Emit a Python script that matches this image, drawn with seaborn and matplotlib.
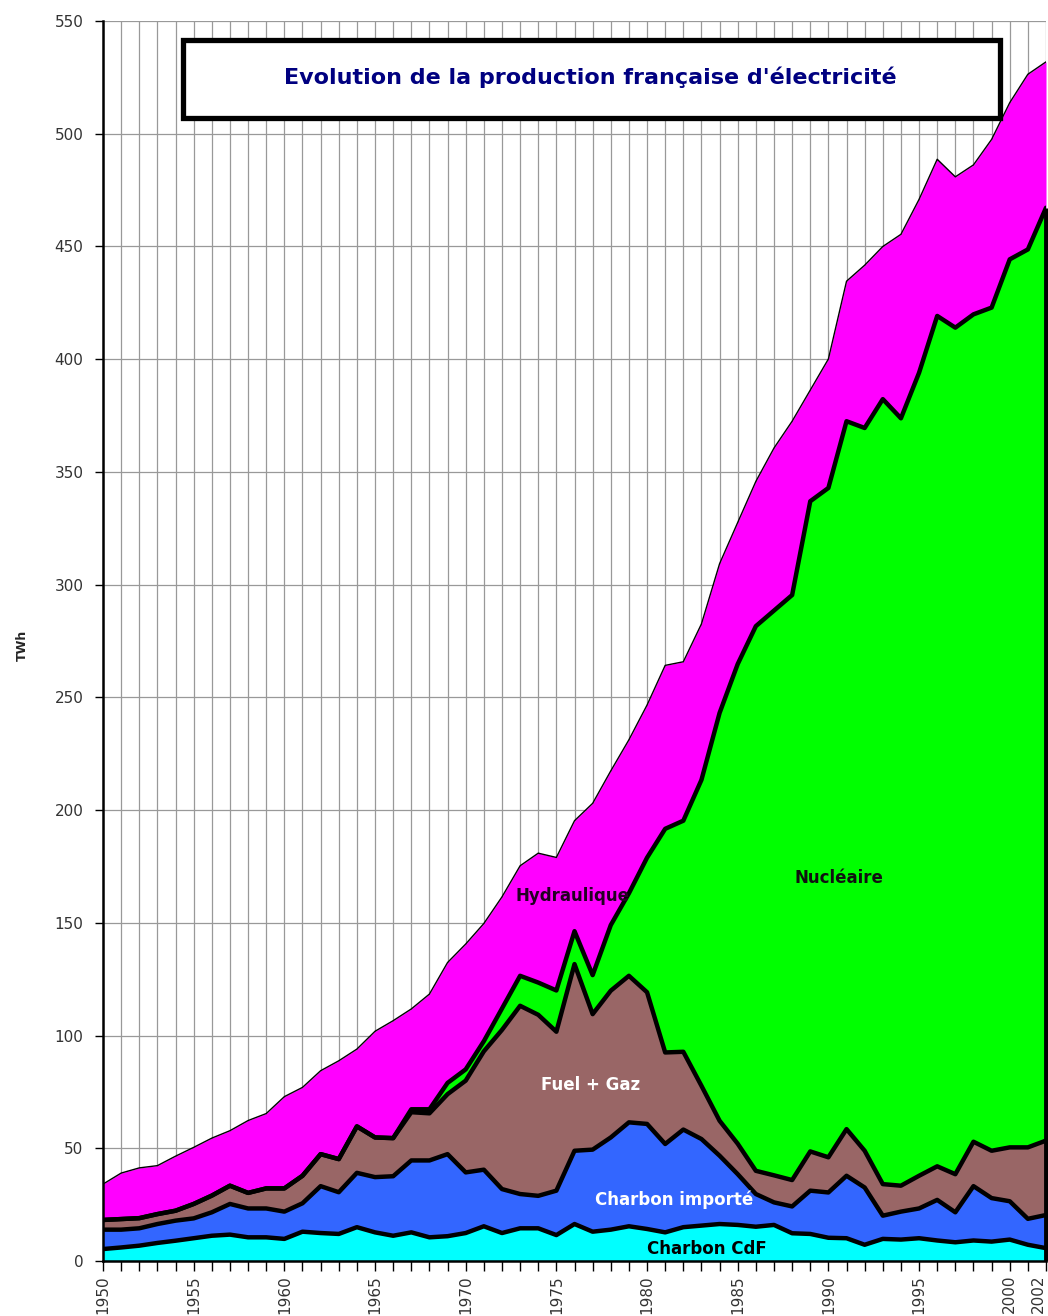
import numpy as np
import matplotlib.pyplot as plt
import seaborn as sns
from matplotlib.patches import Rectangle

# Production d'electricite en France (TWh)
years = list(range(1950, 2003))

charbon_cdf = [5.3, 6.0, 6.8, 8.0, 9.0, 10.1, 11.2, 11.7, 10.5, 10.5,
               9.8, 13.0, 12.4, 12.0, 15.0, 12.7, 11.2, 12.7, 10.5, 11.0,
               12.4, 15.4, 12.4, 14.5, 14.5, 11.5, 16.4, 13.0, 13.9, 15.4,
               14.2, 12.7, 15.0, 15.7, 16.4, 16.0, 15.2, 16.0, 12.3, 12.0,
               10.3, 10.1, 7.2, 9.8, 9.5, 10.1, 9.1, 8.3, 9.1, 8.6,
               9.5, 7.2, 5.7]
charbon_importe = [8.6, 7.9, 7.7, 8.4, 8.9, 8.8, 10.4, 13.6, 12.8, 12.8,
                   12.1, 12.6, 20.8, 18.5, 24.1, 24.5, 26.4, 31.9, 34.1, 36.4,
                   26.9, 25.1, 19.5, 15.2, 14.4, 19.7, 32.5, 36.4, 40.9, 46.1,
                   46.6, 39.2, 43.3, 38.4, 30.3, 22.5, 14.5, 10.0, 11.9, 19.2,
                   20.1, 27.7, 25.4, 10.3, 12.4, 13.2, 18.0, 13.3, 24.1, 19.3,
                   17.0, 11.5, 14.7]
fuel_gaz = [4.3, 4.7, 4.5, 4.4, 4.4, 6.4, 7.4, 8.1, 6.9, 8.9,
            10.3, 12.2, 14.2, 14.7, 20.6, 17.6, 16.9, 21.4, 20.9, 26.6,
            40.7, 52.5, 70.6, 83.5, 80.3, 70.5, 82.8, 60.1, 65.1, 65.0,
            58.4, 40.6, 34.5, 23.6, 15.5, 13.5, 10.3, 12.0, 11.7, 17.4,
            15.6, 20.7, 16.3, 14.0, 11.5, 14.5, 14.9, 16.9, 19.7, 21.0,
            23.9, 31.7, 33.0]
nucleaire = [0, 0, 0, 0, 0, 0, 0, 0, 0, 0,
             0, 0, 0, 0, 0, 0, 0, 1.3, 1.8, 5.0,
             5.0, 4.5, 9.5, 13.3, 14.3, 18.3, 14.6, 17.3, 29.1, 36.6,
             59.7, 99.2, 102.5, 135.7, 180.9, 212.8, 241.6, 250.5, 259.5, 288.4,
             296.9, 314.0, 320.6, 348.2, 340.4, 356.2, 377.2, 375.5, 367.0, 374.0,
             393.9, 398.3, 413.8]
hydraulique = [15.9, 20.4, 22.3, 21.5, 24.2, 25.1, 25.5, 24.4, 32.1, 33.2,
               40.7, 39.2, 37.0, 43.6, 34.3, 47.1, 52.1, 44.5, 51.1, 53.4,
               55.6, 52.2, 49.5, 48.8, 57.4, 59.0, 49.0, 76.2, 68.4, 68.1,
               67.7, 72.5, 70.5, 69.2, 66.2, 62.8, 64.2, 72.1, 77.1, 49.3,
               57.2, 62.1, 72.2, 67.7, 81.6, 76.9, 69.5, 66.9, 66.3, 74.6,
               69.5, 77.7, 64.7]

tick_years = [1950, 1955, 1960, 1965, 1970, 1975, 1980, 1985, 1990, 1995, 2000, 2002]
layer_colors = ['#00FFFF', '#3366FF', '#996666', '#00FF00', '#FF00FF']

sns.set_theme(style="white")
plt.rcParams['font.family'] = ['DejaVu Sans']

fig = plt.figure(figsize=(10.48, 13.16), dpi=100)
ax = fig.add_axes([0.0983, 0.0418, 0.8998, 0.9422])

layers = [charbon_cdf, charbon_importe, fuel_gaz, nucleaire, hydraulique]
ax.stackplot(years, *layers, colors=layer_colors, linewidth=0, zorder=2)

# limites entre les filieres
cum = np.cumsum(np.array(layers), axis=0)
for i in range(4):
    sns.lineplot(x=years, y=cum[i], color='black', linewidth=3.2, ax=ax, zorder=3)
sns.lineplot(x=years, y=cum[4], color='black', linewidth=1.0, ax=ax, zorder=3)
ax.vlines(years[-1], 0, cum[3][-1], color='black', linewidth=3.5, zorder=3, clip_on=False)

# axes
ax.set_xlim(1950, 2002)
ax.set_ylim(0, 550)
ax.set_yticks(range(0, 551, 50))
ax.set_xticks(tick_years)
ax.set_xticks(years, minor=True)
ax.set_xticklabels([str(y) for y in tick_years], rotation=90)
ax.get_xticklabels()[-1].set_horizontalalignment('right')
ax.tick_params(axis='x', which='both', direction='out', length=7, width=1,
               color='black', bottom=True, labelsize=11, labelcolor='#333333', pad=3)
ax.tick_params(axis='y', direction='out', length=6, width=1, color='black',
               left=True, labelsize=11, labelcolor='#333333', pad=8)
ax.grid(True, axis='x', which='both', color='#999999', linewidth=0.9)
ax.grid(True, axis='y', which='major', color='#999999', linewidth=0.9)
ax.set_axisbelow(True)
for side in ['top', 'right']:
    ax.spines[side].set_visible(False)
for side in ['left', 'bottom']:
    ax.spines[side].set_color('black')
    ax.spines[side].set_linewidth(1.8)
ax.set_xlabel('')
ax.set_ylabel('')

fig.text(22 / 1048, 1 - 645 / 1316, 'TWh', rotation=90, fontsize=9,
         fontweight='bold', ha='center', va='center')

# etiquettes des filieres
ax.text(1975.9, 162, 'Hydraulique', fontsize=12, fontweight='bold', color='#220022',
        ha='center', va='center', zorder=4)
ax.text(1990.6, 170, 'Nucléaire', fontsize=12, fontweight='bold', color='#111111',
        ha='center', va='center', zorder=4)
ax.text(1976.9, 78, 'Fuel + Gaz', fontsize=12, fontweight='bold', color='white',
        ha='center', va='center', zorder=4)
ax.text(1981.5, 27, 'Charbon importé', fontsize=12, fontweight='bold', color='white',
        ha='center', va='center', zorder=4)
ax.text(1983.3, 5.5, 'Charbon CdF', fontsize=12, fontweight='bold', color='black',
        ha='center', va='center', zorder=4)

# cadre du titre
fig.add_artist(Rectangle((183 / 1048, 1 - 118 / 1316), 817 / 1048, 78 / 1316,
                         transform=fig.transFigure, facecolor='white',
                         edgecolor='black', linewidth=3.8, zorder=5))
fig.text(590 / 1048, 1 - 77 / 1316, "Evolution de la production française d'électricité",
         fontsize=16, fontweight='bold', color='#000080', ha='center', va='center', zorder=6)

fig.savefig('out.png', dpi=100)
